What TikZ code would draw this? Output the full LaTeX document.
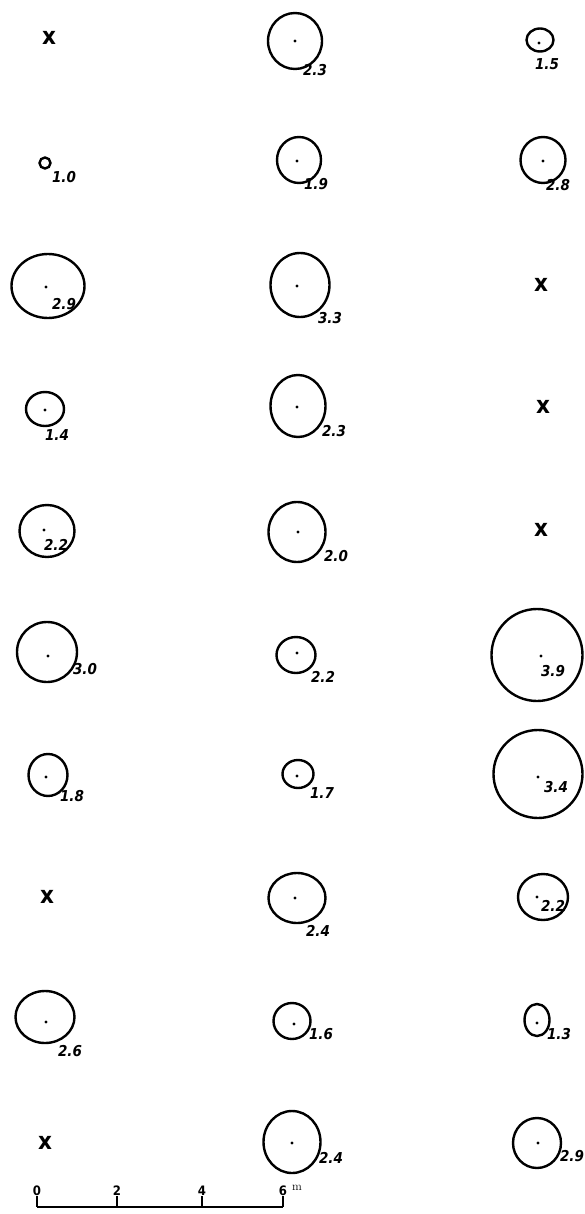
\documentclass[tikz,border=0pt]{standalone}
\usepackage{fontspec}
\usepackage{tikz}
\usetikzlibrary{shapes.geometric}
\newfontfamily\handfont{DejaVu Sans Condensed}

\begin{document}
\begin{tikzpicture}[x=1pt,y=-1pt]
  \tikzset{trunk/.style={draw,ellipse,line width=2.4pt,inner sep=0,outer sep=0},
    pith/.style={fill,circle,inner sep=0,minimum size=3.4pt},
    dbh/.style={font=\handfont\fontsize{15}{15}\selectfont\bfseries\itshape,inner sep=0},
    gap/.style={font=\handfont\fontsize{24}{24}\selectfont\bfseries,inner sep=0},
    ruler/.style={font=\handfont\fontsize{13}{13}\selectfont\bfseries,inner sep=0}}
  \useasboundingbox (0,0) rectangle (585,1214);
  % row 1
  \node[gap] (g11) at (49,38) {x};
  \node[trunk,minimum width=54,minimum height=56] (t12) at (295,41) {};
  \node[pith] (p12) at (295,41) {};
  \node[dbh] (d12) at (315,70) {2.3};
  \node[trunk,minimum width=27,minimum height=23] (t13) at (540,40) {};
  \node[pith] (p13) at (539,43) {};
  \node[dbh] (d13) at (547,64) {1.5};
  % row 2
  \node[trunk,minimum width=11,minimum height=11] (t21) at (45,163) {};
  \node[dbh] (d21) at (64,177) {1.0};
  \node[trunk,minimum width=44,minimum height=46] (t22) at (299,160) {};
  \node[pith] (p22) at (297,161) {};
  \node[dbh] (d22) at (316,184) {1.9};
  \node[trunk,minimum width=45,minimum height=46] (t23) at (543,160) {};
  \node[pith] (p23) at (543,161) {};
  \node[dbh] (d23) at (558,185) {2.8};
  % row 3
  \node[trunk,minimum width=73,minimum height=64] (t31) at (48,286) {};
  \node[pith] (p31) at (46,287) {};
  \node[dbh] (d31) at (64,304) {2.9};
  \node[trunk,minimum width=59,minimum height=64] (t32) at (300,285) {};
  \node[pith] (p32) at (297,286) {};
  \node[dbh] (d32) at (330,318) {3.3};
  \node[gap] (g33) at (541,285) {x};
  % row 4
  \node[trunk,minimum width=38,minimum height=34] (t41) at (45,409) {};
  \node[pith] (p41) at (45,410) {};
  \node[dbh] (d41) at (57,435) {1.4};
  \node[trunk,minimum width=55,minimum height=62] (t42) at (298,406) {};
  \node[pith] (p42) at (297,407) {};
  \node[dbh] (d42) at (334,431) {2.3};
  \node[gap] (g43) at (543,407) {x};
  % row 5
  \node[trunk,minimum width=55,minimum height=52] (t51) at (47,531) {};
  \node[pith] (p51) at (44,530) {};
  \node[dbh] (d51) at (56,545) {2.2};
  \node[trunk,minimum width=57,minimum height=60] (t52) at (297,532) {};
  \node[pith] (p52) at (298,532) {};
  \node[dbh] (d52) at (336,556) {2.0};
  \node[gap] (g53) at (541,530) {x};
  % row 6
  \node[trunk,minimum width=60,minimum height=60] (t61) at (47,652) {};
  \node[pith] (p61) at (48,656) {};
  \node[dbh] (d61) at (85,669) {3.0};
  \node[trunk,minimum width=39,minimum height=36] (t62) at (296,655) {};
  \node[pith] (p62) at (297,653) {};
  \node[dbh] (d62) at (323,677) {2.2};
  \node[trunk,minimum width=91,minimum height=92] (t63) at (537,655) {};
  \node[pith] (p63) at (541,656) {};
  \node[dbh] (d63) at (553,671) {3.9};
  % row 7
  \node[trunk,minimum width=39,minimum height=42] (t71) at (48,775) {};
  \node[pith] (p71) at (46,777) {};
  \node[dbh] (d71) at (72,796) {1.8};
  \node[trunk,minimum width=31,minimum height=28] (t72) at (298,774) {};
  \node[pith] (p72) at (297,776) {};
  \node[dbh] (d72) at (322,793) {1.7};
  \node[trunk,minimum width=89,minimum height=88] (t73) at (538,774) {};
  \node[pith] (p73) at (538,777) {};
  \node[dbh] (d73) at (556,787) {3.4};
  % row 8
  \node[gap] (g81) at (47,897) {x};
  \node[trunk,minimum width=57,minimum height=50] (t82) at (297,898) {};
  \node[pith] (p82) at (295,898) {};
  \node[dbh] (d82) at (318,931) {2.4};
  \node[trunk,minimum width=50,minimum height=46] (t83) at (543,897) {};
  \node[pith] (p83) at (537,897) {};
  \node[dbh] (d83) at (553,906) {2.2};
  % row 9
  \node[trunk,minimum width=59,minimum height=52] (t91) at (45,1017) {};
  \node[pith] (p91) at (46,1022) {};
  \node[dbh] (d91) at (70,1051) {2.6};
  \node[trunk,minimum width=37,minimum height=36] (t92) at (292,1021) {};
  \node[pith] (p92) at (294,1024) {};
  \node[dbh] (d92) at (321,1034) {1.6};
  \node[trunk,minimum width=25,minimum height=32] (t93) at (537,1020) {};
  \node[pith] (p93) at (537,1023) {};
  \node[dbh] (d93) at (559,1034) {1.3};
  % row 10
  \node[gap] (g101) at (45,1143) {x};
  \node[trunk,minimum width=57,minimum height=62] (t102) at (292,1142) {};
  \node[pith] (p102) at (292,1143) {};
  \node[dbh] (d102) at (331,1158) {2.4};
  \node[trunk,minimum width=48,minimum height=50] (t103) at (537,1143) {};
  \node[pith] (p103) at (538,1143) {};
  \node[dbh] (d103) at (572,1156) {2.9};
  % scale bar
  \node[ruler] (s0) at (37,1191) {0};
  \node[ruler] (s2) at (117,1191) {2};
  \node[ruler] (s4) at (202,1191) {4};
  \node[ruler] (s6) at (283,1191) {6};
  \node[font=\fontsize{12}{12}\selectfont,inner sep=0] (sm) at (297,1188) {m};
  \coordinate (b0) at (37,1207);
  \coordinate (b2) at (117,1207);
  \coordinate (b4) at (202,1207);
  \coordinate (b6) at (283,1207);
  \draw[line width=1.4pt] (b0) -- (b6);
  \draw[line width=1.4pt] (s0.south) -- (b0);
  \draw[line width=1.4pt] (s2.south) -- (b2);
  \draw[line width=1.4pt] (s4.south) -- (b4);
  \draw[line width=1.4pt] (s6.south) -- (b6);
\end{tikzpicture}
\end{document}
